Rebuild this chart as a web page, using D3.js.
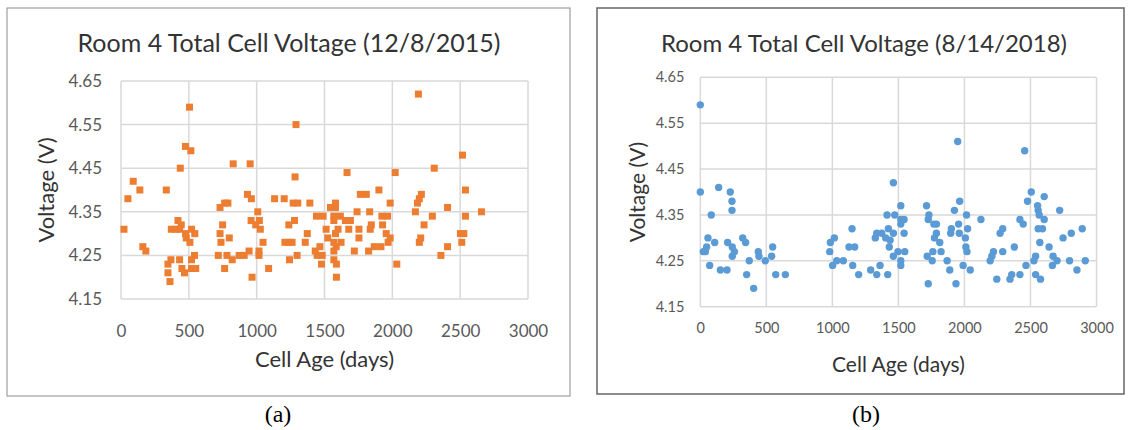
<!DOCTYPE html>
<html>
<head>
<meta charset="utf-8">
<script src="https://cdn.jsdelivr.net/npm/d3@7"></script>
<style>
  body { margin: 0; background: #fff; }
  text { font-family: Lato, "Open Sans", sans-serif; }
  text.caption { font-family: "Liberation Serif", "Times New Roman", serif; }
</style>
</head>
<body>
<svg id="chart" width="1130" height="430"></svg>
<script>
const ageTicks = [0, 500, 1000, 1500, 2000, 2500, 3000];
const voltTicks = [4.15, 4.25, 4.35, 4.45, 4.55, 4.65];

// (a) 12/8/2015
const ageA = [505, 1290, 475, 515, 827, 952, 437, 1283, 90, 139, 334, 51, 932, 961, 730, 764, 788, 1132, 1203, 1269,
  1303, 1008, 959, 1020, 993, 1027, 1047, 22, 420, 371, 403, 444, 432, 476, 481, 520, 544, 508, 161, 183,
  749, 730, 737, 798, 1237, 1279, 1208, 1237, 1261, 542, 520, 368, 432, 346, 449, 468, 520, 551, 346, 361,
  717, 781, 820, 764, 871, 908, 944, 1017, 1017, 966, 1088, 1242, 1298,
  2192, 2517, 2309, 1666, 2021, 1901, 2539, 1764, 1808, 2214, 2199, 2185, 1984, 1392, 1581, 2407, 1544, 1581, 2170, 2657,
  1740, 1833, 1441, 1490, 1569, 1617, 1923, 1965, 2295, 2539, 1569, 1654, 1691, 2234, 1845, 1928, 1512, 1600, 1679, 1754,
  1837, 1373, 1581, 1955, 2502, 2527, 1524, 1754, 1984, 2209, 1358, 1569, 1622, 1969, 2199, 2512, 1466, 1586, 1867, 1916,
  2407, 1432, 1720, 1825, 1569, 1446, 1483, 2358, 1569, 1478, 1588, 2033, 1588];
const voltA = [4.59, 4.55, 4.50, 4.49, 4.46, 4.46, 4.45, 4.43, 4.42, 4.40, 4.40, 4.38, 4.39, 4.38, 4.36, 4.37, 4.37, 4.38, 4.38, 4.37,
  4.37, 4.35, 4.33, 4.33, 4.32, 4.31, 4.28, 4.31, 4.33, 4.31, 4.31, 4.32, 4.31, 4.30, 4.29, 4.31, 4.30, 4.28, 4.27, 4.26,
  4.32, 4.30, 4.28, 4.29, 4.32, 4.33, 4.28, 4.28, 4.28, 4.25, 4.24, 4.24, 4.24, 4.23, 4.22, 4.21, 4.22, 4.22, 4.21, 4.19,
  4.25, 4.25, 4.24, 4.22, 4.25, 4.25, 4.26, 4.26, 4.25, 4.20, 4.22, 4.24, 4.25,
  4.62, 4.48, 4.45, 4.44, 4.44, 4.40, 4.40, 4.39, 4.39, 4.39, 4.38, 4.37, 4.37, 4.37, 4.37, 4.36, 4.36, 4.36, 4.35, 4.35,
  4.35, 4.35, 4.34, 4.34, 4.34, 4.34, 4.34, 4.34, 4.34, 4.34, 4.33, 4.33, 4.33, 4.32, 4.32, 4.32, 4.31, 4.31, 4.31, 4.31,
  4.31, 4.30, 4.30, 4.30, 4.30, 4.30, 4.29, 4.29, 4.29, 4.29, 4.28, 4.28, 4.28, 4.28, 4.28, 4.28, 4.27, 4.27, 4.27, 4.27,
  4.27, 4.26, 4.26, 4.26, 4.26, 4.25, 4.25, 4.25, 4.24, 4.23, 4.23, 4.23, 4.20];

// (b) 8/14/2018
const ageB = [0, 0, 139, 227, 240, 240, 83, 58, 48, 38, 23, 109, 71, 152, 202, 207, 242, 258, 242, 321,
  343, 439, 444, 371, 351, 404, 492, 540, 548, 571, 644, 980, 985, 1015, 1002, 1033, 1083, 1149, 1126, 1169,
  1154, 1199, 1290, 1336, 1361, 1419, 1325, 1336, 1374, 1404, 1424, 1437, 1431, 1462, 1414, 1472, 1462, 1462,
  1949, 2456, 2506, 2604, 2478, 1964, 1518, 1713, 1924, 2554, 2558, 2721, 1731, 2016, 2566, 1543, 1518, 1726, 2125, 2420,
  2604, 1768, 1788, 1956, 2445, 1518, 1901, 2024, 2290, 2558, 2591, 2892, 1543, 1788, 1896, 1961, 2270, 2809, 1773, 2007,
  2747, 1813, 2571, 2641, 2378, 2011, 1823, 1761, 2019, 2220, 2290, 1548, 1497, 1718, 2208, 2539, 2671, 1518, 1756, 1869,
  2195, 2526, 2701, 2796, 2915, 1518, 1990, 2466, 2666, 1889, 2044, 2852, 2358, 2420, 2539, 2245, 2345, 2576, 1726, 1936];
const voltB = [4.59, 4.40, 4.41, 4.40, 4.38, 4.36, 4.35, 4.30, 4.28, 4.27, 4.27, 4.29, 4.24, 4.23, 4.23, 4.29, 4.28, 4.27, 4.26, 4.30,
  4.29, 4.27, 4.26, 4.25, 4.22, 4.19, 4.25, 4.26, 4.28, 4.22, 4.22, 4.27, 4.29, 4.30, 4.24, 4.25, 4.25, 4.32, 4.28, 4.28,
  4.24, 4.22, 4.23, 4.22, 4.24, 4.22, 4.30, 4.31, 4.31, 4.30, 4.32, 4.295, 4.28, 4.31, 4.35, 4.35, 4.42, 4.26,
  4.51, 4.49, 4.40, 4.39, 4.38, 4.38, 4.37, 4.37, 4.36, 4.37, 4.36, 4.36, 4.35, 4.35, 4.35, 4.34, 4.34, 4.34, 4.34, 4.34,
  4.34, 4.33, 4.33, 4.33, 4.33, 4.33, 4.32, 4.32, 4.32, 4.32, 4.32, 4.32, 4.31, 4.31, 4.31, 4.31, 4.31, 4.31, 4.30, 4.30,
  4.30, 4.29, 4.29, 4.28, 4.28, 4.28, 4.27, 4.27, 4.27, 4.27, 4.27, 4.27, 4.27, 4.26, 4.26, 4.26, 4.26, 4.25, 4.25, 4.25,
  4.25, 4.25, 4.25, 4.25, 4.25, 4.24, 4.24, 4.24, 4.24, 4.23, 4.23, 4.23, 4.22, 4.22, 4.22, 4.21, 4.21, 4.21, 4.20, 4.20];

const svg = d3.select("#chart");
svg.append("rect").attr("width", 1130).attr("height", 430).attr("fill", "#fff");

function createScatter(cfg) {
  const g = svg.append("g");

  g.append("rect")
    .attr("x", cfg.frame[0])
    .attr("y", cfg.frame[1])
    .attr("width", cfg.frame[2])
    .attr("height", cfg.frame[3])
    .attr("fill", "none")
    .attr("stroke", cfg.frameColor)
    .attr("stroke-width", cfg.frameWidth);

  const xscale = d3.scaleLinear().domain([0, 3000]).range([cfg.left, cfg.right]);
  const yscale = d3.scaleLinear().domain([4.15, 4.65]).range([cfg.bottom, cfg.top]);

  // gridlines
  g.selectAll(".vgrid")
    .data(ageTicks)
    .join("line")
    .attr("x1", (d) => xscale(d))
    .attr("x2", (d) => xscale(d))
    .attr("y1", cfg.top)
    .attr("y2", cfg.bottom)
    .attr("stroke", "#d9d9d9")
    .attr("stroke-width", 1.5);
  g.selectAll(".hgrid")
    .data(voltTicks)
    .join("line")
    .attr("x1", cfg.left)
    .attr("x2", cfg.right)
    .attr("y1", (d) => yscale(d))
    .attr("y2", (d) => yscale(d))
    .attr("stroke", "#d9d9d9")
    .attr("stroke-width", 1.5);

  const xaxis = d3.axisBottom(xscale).tickValues(ageTicks).tickSize(0).tickPadding(cfg.xPad).tickFormat(d3.format("d"));
  const g_xaxis = g.append("g")
    .attr("transform", `translate(0,${cfg.bottom})`)
    .call(xaxis);
  const yaxis = d3.axisLeft(yscale).tickValues(voltTicks).tickSize(0).tickPadding(cfg.yPad).tickFormat(d3.format(".2f"));
  const g_yaxis = g.append("g")
    .attr("transform", `translate(${cfg.left},0)`)
    .call(yaxis);
  [g_xaxis, g_yaxis].forEach((a) => {
    a.select(".domain").remove();
    a.attr("font-family", null).attr("font-size", cfg.tickSize);
    a.selectAll("text").attr("fill", "#595959");
  });

  // markers
  const pts = cfg.ages.map((d, i) => ({ age: d, volt: cfg.volts[i] }));
  if (cfg.shape === "square") {
    g.selectAll(".pt")
      .data(pts)
      .join("rect")
      .attr("x", (d) => xscale(d.age) - 3.5)
      .attr("y", (d) => yscale(d.volt) - 3.5)
      .attr("width", 7)
      .attr("height", 7)
      .attr("fill", cfg.color);
  } else {
    g.selectAll(".pt")
      .data(pts)
      .join("circle")
      .attr("cx", (d) => xscale(d.age))
      .attr("cy", (d) => yscale(d.volt))
      .attr("r", 3.7)
      .attr("fill", cfg.color);
  }

  g.append("text")
    .attr("x", cfg.titleX)
    .attr("y", 52)
    .attr("text-anchor", "middle")
    .attr("font-size", cfg.titleSize)
    .attr("fill", "#333")
    .text(cfg.title);

  g.append("text")
    .attr("x", (cfg.left + cfg.right) / 2)
    .attr("y", cfg.xLabelY)
    .attr("text-anchor", "middle")
    .attr("dominant-baseline", "central")
    .attr("font-size", cfg.labelSize)
    .attr("fill", "#333")
    .text("Cell Age (days)");

  g.append("text")
    .attr("transform", `translate(${cfg.yLabelX},${(cfg.top + cfg.bottom) / 2}) rotate(-90)`)
    .attr("text-anchor", "middle")
    .attr("dominant-baseline", "central")
    .attr("font-size", cfg.labelSize)
    .attr("fill", "#333")
    .text("Voltage (V)");

  g.append("text")
    .attr("class", "caption")
    .attr("x", cfg.capX)
    .attr("y", 414)
    .attr("text-anchor", "middle")
    .attr("dominant-baseline", "central")
    .attr("font-size", 24)
    .attr("fill", "#000")
    .text(cfg.caption);
}

createScatter({
  frame: [7, 8, 563, 388], frameColor: "#8c8c8c", frameWidth: 1,
  left: 121, right: 528, top: 81, bottom: 299,
  ages: ageA, volts: voltA, shape: "square", color: "#ed7d31",
  title: "Room 4 Total Cell Voltage (12/8/2015)", titleX: 289, titleSize: 25,
  tickSize: 17, xPad: 26, yPad: 19, labelSize: 22, xLabelY: 358, yLabelX: 45,
  caption: "(a)", capX: 278
});

createScatter({
  frame: [597, 8, 527, 386], frameColor: "#666", frameWidth: 1.5,
  left: 700.3, right: 1096.5, top: 77.3, bottom: 306.7,
  ages: ageB, volts: voltB, shape: "circle", color: "#5b9bd5",
  title: "Room 4 Total Cell Voltage (8/14/2018)", titleX: 864, titleSize: 24,
  tickSize: 14.5, xPad: 16, yPad: 16, labelSize: 21, xLabelY: 363, yLabelX: 636,
  caption: "(b)", capX: 866
});
</script>
</body>
</html>
